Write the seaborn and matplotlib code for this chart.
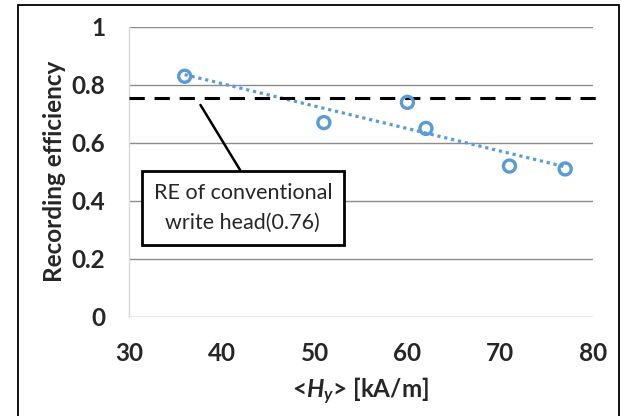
import numpy as np
import pandas as pd
import matplotlib.pyplot as plt
import seaborn as sns
from matplotlib.patches import Rectangle

# data
hy = [36, 51, 60, 62, 71, 77]
efficiency = [0.83, 0.67, 0.74, 0.65, 0.52, 0.51]
conventional_re = 0.755
x_ticks = [30, 40, 50, 60, 70, 80]
y_ticks = [0, 0.2, 0.4, 0.6, 0.8, 1]
y_tick_labels = ["0", "0.2", "0.4", "0.6", "0.8", "1"]

df = pd.DataFrame({"hy": hy, "eff": efficiency})

sns.set_style("white")
plt.rcParams["font.family"] = ["Lato", "DejaVu Sans"]
plt.rcParams["mathtext.fontset"] = "custom"
plt.rcParams["mathtext.rm"] = "Lato:bold"
plt.rcParams["mathtext.it"] = "Lato:italic:bold"

blue = "#5B9BD5"

fig = plt.figure(figsize=(6.22, 4.16), dpi=100)
ax = fig.add_axes([129 / 622, 1 - 316.7 / 416, (593 - 129) / 622, (316.7 - 27) / 416])

# outer frame
fig.patches.append(Rectangle((17.5 / 622, -0.05), (619 - 17.5) / 622, 1.05 - 5 / 416,
                             transform=fig.transFigure, fill=False,
                             edgecolor="black", linewidth=1.3))

ax.set_xlim(30, 80)
ax.set_ylim(0, 1)
ax.set_xticks(x_ticks)
ax.set_yticks(y_ticks)
ax.set_yticklabels(y_tick_labels)
ax.grid(axis="y", color="#8c8c8c", linewidth=1.0)
ax.set_axisbelow(True)
for s in ["top", "right", "bottom"]:
    ax.spines[s].set_visible(False)
ax.spines["left"].set_color("#d9d9d9")
ax.spines["left"].set_linewidth(1.0)
ax.tick_params(axis="both", length=0, labelsize=17.5)
ax.tick_params(axis="x", pad=18)
ax.tick_params(axis="y", pad=17)
for lab in ax.get_xticklabels() + ax.get_yticklabels():
    lab.set_fontweight("bold")

# trendline
sns.regplot(data=df, x="hy", y="eff", ax=ax, ci=None, scatter=False,
            line_kws=dict(color=blue, linestyle=(0, (1, 1.2)), linewidth=2.3))

# reference dashed line
ax.plot([30, 81.2], [conventional_re, conventional_re], color="black",
        linestyle=(0, (5, 3.2)), linewidth=2.2, clip_on=False, zorder=3)

sns.scatterplot(data=df, x="hy", y="eff", ax=ax, marker="o", s=75,
                facecolor="none", edgecolor=blue, linewidth=2.4, zorder=4)

ax.set_xlabel(r"<$\mathit{H}_{\mathit{y}}$> [kA/m]", fontsize=17.5, fontweight="bold", labelpad=8)
ax.set_ylabel("Recording efficiency", fontsize=17.5, fontweight="bold", labelpad=4)

ax.annotate("RE of conventional\nwrite head(0.76)", xy=(37.7, 0.731), xycoords="data",
            xytext=(42.26, 0.375), textcoords="data",
            ha="center", va="center", fontsize=15.5, linespacing=1.6,
            bbox=dict(boxstyle="square,pad=0.55", facecolor="white", edgecolor="black", linewidth=2),
            arrowprops=dict(arrowstyle="-", color="black", linewidth=1.8, shrinkA=0, shrinkB=0,
                            relpos=(0.53, 1.0)))

fig.savefig("out.png", dpi=100)
